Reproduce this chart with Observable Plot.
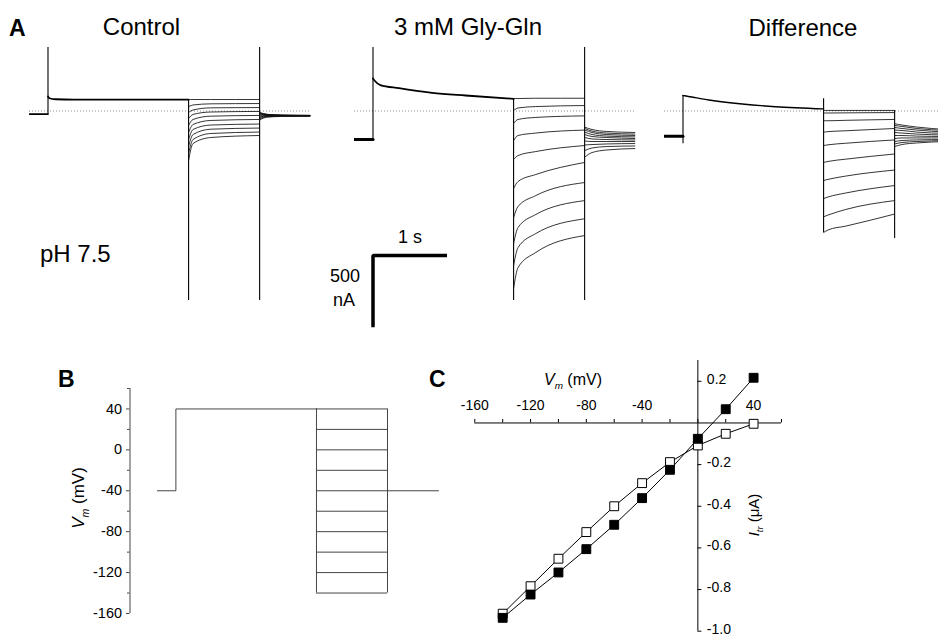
<!DOCTYPE html>
<html><head><meta charset="utf-8">
<script src="https://cdn.jsdelivr.net/npm/d3@7"></script>
<script src="https://cdn.jsdelivr.net/npm/@observablehq/plot@0.6"></script>
<style>
html,body{margin:0;padding:0;background:#fff;overflow:hidden;}
#fig{position:relative;width:938px;height:636px;overflow:hidden;background:#fff;}
</style></head><body><div id="fig"></div>
<script>
// ================= DATA =================
// Panel A: voltage-clamp protocol epochs (s): start, prepulse on, test on, test off, end
const epochs = [0, 0.25, 2.15, 3.11, 3.8];
const holdT = [0.25, 0.27, 0.35, 0.6, 1.05, 1.5, 2.15];   // sample times during +40 mV prepulse
const testT = [0, 0.06, 0.3, 0.96];                       // s after test onset
const tailT = [0, 0.1, 0.3, 0.69];                        // s after test offset
const testV = [40, 20, 0, -20, -40, -60, -80, -100, -120, -140]; // mV
const panelTitles = ["Control", "3 mM Gly-Gln", "Difference"];

// Control currents (nA)
const ctrlBase = -22;
const ctrlOnPeak = [3000];
const ctrlHold = [101, 89, 82, 80, 80, 80, 80];
const ctrlTestPeak = [-3000];
const ctrlTest = [
  [80, 80, 80, 80], [31, 42, 50, 52], [-10, 7, 22, 24], [-52, -24, -7, -3], [-101, -59, -36, -31],
  [-150, -94, -66, -59], [-199, -129, -98, -91], [-248, -164, -127, -119], [-297, -199, -157, -147], [-345, -227, -185, -171]];
const ctrlOffPeak = [-3000, 3000];
const ctrlTail = [
  [-10, -23, -29, -31], [-14, -24, -29, -31], [-17, -26, -30, -31], [-21, -27, -31, -31], [-28, -29, -31, -32],
  [-35, -31, -32, -33], [-42, -34, -34, -34], [-49, -37, -35, -34], [-56, -40, -36, -35], [-63, -43, -38, -36]];

// 3 mM Gly-Gln currents (nA)
const glyBase = -199;
const glyOnPeak = [3000];
const glyHold = [227, 213, 181, 159, 127, 108, 85];
const glyTestPeak = [-3000];
const glyTest = [
  [87, 87, 89, 89], [3, 21, 31, 38], [-87, -59, -45, -34], [-206, -171, -154, -133], [-338, -311, -283, -241],
  [-541, -492, -443, -359], [-743, -666, -590, -499], [-925, -813, -722, -625], [-1078, -953, -855, -752], [-1238, -1092, -987, -869]];
const glyOffPeak = [-3000, 3000];
const glyTail = [
  [-113, -129, -143, -150], [-122, -140, -154, -161], [-133, -150, -164, -171], [-147, -164, -175, -181], [-164, -178, -185, -192],
  [-185, -195, -199, -202], [-209, -213, -213, -213], [-237, -234, -230, -227], [-276, -258, -248, -244], [-322, -290, -272, -262]];

// Difference currents (nA)
const diffBase = -176;
const diffOnPeak = [-229];
const diffHold = [108, 106, 99, 77, 49, 30, 15];
const diffTestPeak = [85];
const diffTest = [
  [4, 4, 4, 4], [-14, -14, -13, -11], [-68, -68, -65, -59], [-148, -144, -138, -122], [-241, -236, -225, -202],
  [-359, -352, -336, -300], [-485, -477, -454, -412], [-611, -600, -572, -520], [-738, -726, -687, -625], [-848, -830, -803, -719]];
const diffOffPeak = [-890];
const diffTail = [
  [-89, -98, -112, -129], [-101, -108, -122, -136], [-115, -122, -133, -147], [-133, -136, -147, -157], [-150, -154, -161, -168],
  [-171, -171, -175, -178], [-192, -188, -188, -188], [-213, -206, -202, -199], [-230, -220, -213, -206], [-248, -234, -223, -213]];

// visible current window of panel A (nA)
const aCurrentWindow = [-1322, 443];
// scale bar: 1 s, 500 nA
const scaleBar = {t: 0.25, I: -1008, dt: 1, dI: 500};
const scaleBarLabels = ["1 s", "500", "nA"];

// Panel B: voltage protocol (mV)
const vHold = -40, vPrepulse = 40;
const bDomainV = [-160, 60];
const bMajorTicks = [-160, -120, -80, -40, 0, 40];
const bMinorTicks = [-140, -100, -60, -20, 20, 60];

// Panel C: I-V relation
const ivV = [-140, -120, -100, -80, -60, -40, -20, 0, 20, 40];
const ivFilled = [-0.936, -0.824, -0.718, -0.606, -0.489, -0.361, -0.225, -0.076, 0.066, 0.217];
const ivOpen = [-0.916, -0.784, -0.652, -0.524, -0.400, -0.289, -0.188, -0.108, -0.052, -0.004];
const cDomainV = [-160, 60];
const cDomainI = [-1.0, 0.3];
const cXTicks = [-160, -140, -120, -100, -80, -60, -40, -20, 0, 20, 40, 60];
const cXLabels = [-160, -120, -80, -40, 40];
const cYTicks = [0.2, -0.2, -0.4, -0.6, -0.8, -1.0];
const cYLabels = [0.2, -0.2, -0.4, -0.6, -0.8, -1.0];

// ================= DRAWING =================
const fig = document.getElementById("fig");
const FONT = '"Liberation Sans", Arial, Helvetica, sans-serif';
const PX_PER_S = 74;
const baseStyle = {background: "transparent", overflow: "visible", fontFamily: FONT};

function place(el, left, top) {
  el.style.position = "absolute";
  el.style.left = left + "px";
  el.style.top = top + "px";
  fig.appendChild(el);
}

// ---- Panel A ----
const A_TOP = 40, A_MT = 7, A_FH = 253, A_MB = 40, A_ML = 40, A_MR = 4;
function tracePanel(d, originX, extra = []) {
  const [t0, tOn, tTest, tOff, tEnd] = epochs;
  const pre = [{t: t0, I: d.base}, {t: tOn, I: d.base}];
  const hold = holdT.map((t, k) => ({t, I: d.hold[k]}));
  const steps = [
    ...d.test.flatMap((row, i) => testT.map((dt, k) => ({id: "s" + i, t: tTest + dt, I: row[k]}))),
    ...d.tail.flatMap((row, i) => tailT.map((dt, k) => ({id: "t" + i, t: tOff + dt, I: row[k]})))
  ];
  const jumps = [
    [tOn, [d.base, ...d.onPeak, d.hold[0]]],
    [tTest, [d.hold[d.hold.length - 1], ...d.testPeak, ...d.test.map(r => r[0])]],
    [tOff, [...d.test.map(r => r[r.length - 1]), ...d.offPeak, ...d.tail.map(r => r[0])]]
  ].map(([t, v]) => ({t, lo: d3.min(v), hi: d3.max(v)}));
  const w = (tEnd - t0) * PX_PER_S;
  const svg = Plot.plot({
    width: A_ML + w + A_MR, height: A_MT + A_FH + A_MB,
    marginLeft: A_ML, marginRight: A_MR, marginTop: A_MT, marginBottom: A_MB,
    x: {domain: [t0, tEnd], axis: null},
    y: {domain: aCurrentWindow, axis: null},
    style: baseStyle,
    marks: [
      Plot.ruleY([0], {stroke: "#8a8a8a", strokeWidth: 1, strokeDasharray: "1,2"}),
      Plot.ruleX(jumps, {x: "t", y1: "lo", y2: "hi", stroke: "#000", strokeWidth: 1.1, clip: true}),
      Plot.line(pre, {x: "t", y: "I", stroke: "#000", strokeWidth: d.preW, clip: true}),
      Plot.line(hold, {x: "t", y: "I", curve: "monotone-x", stroke: "#000", strokeWidth: d.holdW, clip: true}),
      Plot.line(steps, {x: "t", y: "I", z: "id", curve: "monotone-x", stroke: "#111", strokeWidth: 0.85, clip: true}),
      ...extra
    ]
  });
  place(svg, originX - A_ML, A_TOP);
}

tracePanel({base: ctrlBase, onPeak: ctrlOnPeak, hold: ctrlHold, testPeak: ctrlTestPeak, test: ctrlTest,
  offPeak: ctrlOffPeak, tail: ctrlTail, preW: 1.6, holdW: 1.8}, 29);

const sb = scaleBar;
tracePanel({base: glyBase, onPeak: glyOnPeak, hold: glyHold, testPeak: glyTestPeak, test: glyTest,
  offPeak: glyOffPeak, tail: glyTail, preW: 3.2, holdW: 1.8}, 354.2, [
  Plot.line([{t: sb.t + sb.dt, I: sb.I}, {t: sb.t, I: sb.I}, {t: sb.t, I: sb.I - sb.dI}],
    {x: "t", y: "I", stroke: "#000", strokeWidth: 3.5, strokeLinejoin: "miter", strokeLinecap: "butt"}),
  Plot.text([sb], {x: d => d.t + d.dt / 2, y: "I", text: () => scaleBarLabels[0], dy: -12, lineAnchor: "bottom", fontSize: 18}),
  Plot.text([sb], {x: "t", y: d => d.I - d.dI / 2, text: () => scaleBarLabels[1], dx: -28, dy: -9, lineAnchor: "bottom", fontSize: 18}),
  Plot.text([sb], {x: "t", y: d => d.I - d.dI / 2, text: () => scaleBarLabels[2], dx: -29, dy: 15, lineAnchor: "bottom", fontSize: 18})
]);

tracePanel({base: diffBase, onPeak: diffOnPeak, hold: diffHold, testPeak: diffTestPeak, test: diffTest,
  offPeak: diffOffPeak, tail: diffTail, preW: 3, holdW: 1.4}, 663.5);

// ---- Panel B ----
{
  const [t0, tOn, tTest, tOff, tEnd] = epochs;
  const bXMin = -0.37;
  const bML = 69.5, bMT = 8, bFH = 225, bMB = 12;
  const bFW = (tEnd - bXMin) * PX_PER_S;
  const st = {stroke: "#444", strokeWidth: 1};
  const svg = Plot.plot({
    width: bML + bFW + 6, height: bMT + bFH + bMB,
    marginLeft: bML, marginRight: 6, marginTop: bMT, marginBottom: bMB,
    x: {domain: [bXMin, tEnd], axis: null},
    y: {domain: bDomainV, axis: null},
    style: baseStyle,
    marks: [
      Plot.ruleX([bXMin], {stroke: "#444", strokeWidth: 1}),
      Plot.ruleY(bMajorTicks, {y: d => d, x1: bXMin - 3.5 / PX_PER_S, x2: bXMin, stroke: "#444"}),
      Plot.ruleY(bMinorTicks, {y: d => d, x1: bXMin - 2.5 / PX_PER_S, x2: bXMin, stroke: "#444"}),
      Plot.text(bMajorTicks, {x: bXMin, y: d => d, text: d => String(d), dx: -8, textAnchor: "end", fontSize: 14.5}),
      Plot.line([{t: t0, v: vHold}, {t: tOn, v: vHold}, {t: tOn, v: vPrepulse}, {t: tTest, v: vPrepulse}], {x: "t", y: "v", ...st}),
      Plot.ruleY(testV, {y: d => d, x1: tTest, x2: tOff, ...st}),
      Plot.ruleX([tTest, tOff], {x: d => d, y1: d3.min(testV), y2: d3.max(testV), ...st}),
      Plot.line([{t: tOff, v: vHold}, {t: tEnd, v: vHold}], {x: "t", y: "v", ...st})
    ]
  });
  place(svg, 129.5 - bML, 388 - bMT);
}

// ---- Panel C ----
{
  const cML = 34.3, cMT = 15, cFW = 306.7, cFH = 270.7, cMR = 25, cMB = 6;
  const iv = ivV.map((v, i) => ({v, filled: ivFilled[i], open: ivOpen[i]}));
  const tickUp = 3.5 / (cFH / (cDomainI[1] - cDomainI[0]));
  const tickRight = 4 / (cFW / (cDomainV[1] - cDomainV[0]));
  const svg = Plot.plot({
    width: cML + cFW + cMR, height: cMT + cFH + cMB,
    marginLeft: cML, marginRight: cMR, marginTop: cMT, marginBottom: cMB,
    x: {domain: cDomainV, axis: null},
    y: {domain: cDomainI, axis: null},
    style: baseStyle,
    marks: [
      Plot.ruleY([0], {stroke: "#000", strokeWidth: 1}),
      Plot.ruleX([0], {stroke: "#000", strokeWidth: 1}),
      Plot.ruleX(cXTicks, {x: d => d, y1: 0, y2: tickUp, stroke: "#000"}),
      Plot.ruleY(cYTicks, {y: d => d, x1: 0, x2: tickRight, stroke: "#000"}),
      Plot.text(cXLabels, {x: d => d, y: 0, text: d => String(d), dy: -12.5, lineAnchor: "bottom", fontSize: 14}),
      Plot.text(cYLabels, {x: 0, y: d => d, text: d => d.toFixed(1), dx: 9, dy: -2, textAnchor: "start", fontSize: 14}),
      Plot.line(iv, {x: "v", y: "open", stroke: "#000", strokeWidth: 1}),
      Plot.line(iv, {x: "v", y: "filled", stroke: "#000", strokeWidth: 1}),
      Plot.dot(iv, {x: "v", y: "open", symbol: "square", r: 5, fill: "#fff", stroke: "#000", strokeWidth: 1}),
      Plot.dot(iv, {x: "v", y: "filled", symbol: "square", r: 5, fill: "#000", stroke: "#000", strokeWidth: 1})
    ]
  });
  place(svg, 474.3 - cML, 360 - cMT);
}

// ---- Text overlay ----
const ov = d3.create("svg").attr("width", 938).attr("height", 636)
  .style("position", "absolute").style("left", "0px").style("top", "0px")
  .style("overflow", "visible").style("pointer-events", "none")
  .attr("font-family", FONT).attr("fill", "#000");
function txt(x, y, s, size, opts = {}) {
  return ov.append("text").attr("x", x).attr("y", y).attr("font-size", size)
    .attr("font-weight", opts.weight || "normal").attr("text-anchor", opts.anchor || "start").text(s);
}
txt(9, 35.5, "A", 23, {weight: "bold"});
txt(141.5, 34.5, panelTitles[0], 24, {anchor: "middle"});
txt(468, 34.5, panelTitles[1], 24, {anchor: "middle"});
txt(803, 36, panelTitles[2], 24, {anchor: "middle"});
txt(40, 262, "pH 7.5", 24);
txt(58, 386.5, "B", 23, {weight: "bold"});
txt(429, 386.5, "C", 23, {weight: "bold"});

function subLabel(g, main, sub, rest, size) {
  const t = g.append("text").attr("font-size", size).attr("text-anchor", "middle");
  t.append("tspan").attr("font-style", "italic").text(main);
  t.append("tspan").attr("font-style", "italic").attr("font-size", size * 0.62).attr("dy", size * 0.28).text(sub);
  t.append("tspan").attr("dy", -size * 0.28).text(rest);
  return t;
}
subLabel(ov.append("g").attr("transform", "translate(84,498) rotate(-90)"), "V", "m", " (mV)", 17);
subLabel(ov.append("g").attr("transform", "translate(573,385)"), "V", "m", " (mV)", 16);
subLabel(ov.append("g").attr("transform", "translate(759,515) rotate(-90)"), "I", "tr", " (\u03BCA)", 15);
fig.appendChild(ov.node());
</script></body></html>
